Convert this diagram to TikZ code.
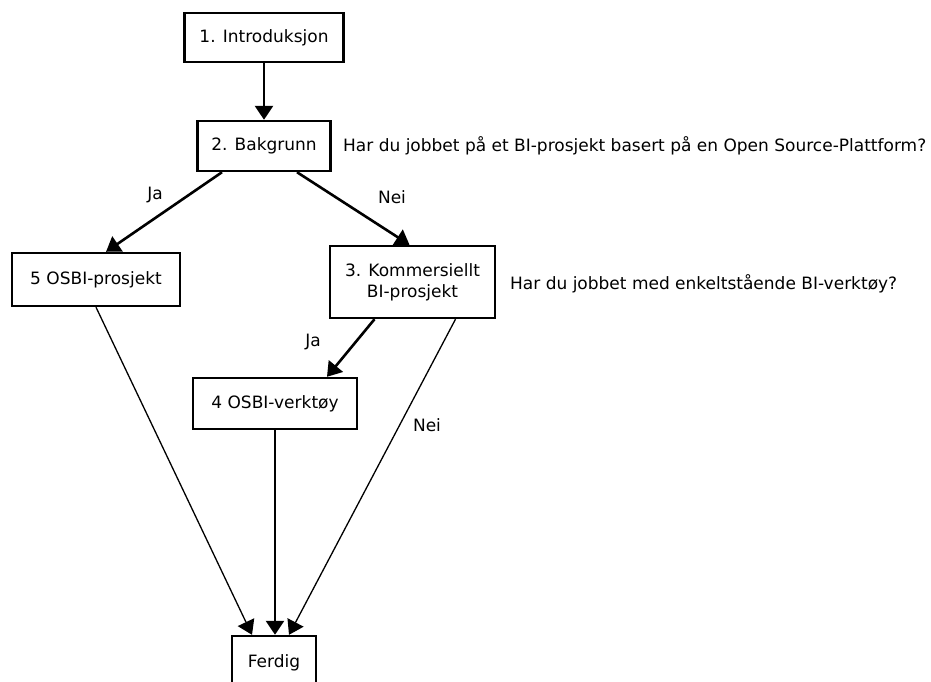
\documentclass[tikz,border=0pt]{standalone}
\usepackage{fontspec}
\setmainfont{DejaVu Sans}
\usetikzlibrary{arrows.meta,calc}
\begin{document}
\begin{tikzpicture}[x=1pt,y=-1pt,
  every node/.style={font=\fontsize{17}{21}\selectfont},
  stepbox/.style={draw,line width=2.4pt,inner sep=0pt,align=center},
  flow/.style={line width=2.6pt,-{Triangle[length=14pt,width=18pt]}},
  thinflow/.style={line width=1.3pt,-{Triangle[length=14pt,width=18pt]}},
  lbl/.style={inner sep=0pt},
  question/.style={anchor=west,inner sep=0pt}]
\useasboundingbox (0,0) rectangle (931,682);
\fill[white] (0,0) rectangle (931,682);

% process steps
\node[stepbox,minimum width=159pt,minimum height=49pt] (intro) at (264,37.5) {1. Introduksjon};
\node[stepbox,minimum width=133pt,minimum height=50pt] (bak) at (264,146) {2. Bakgrunn};
\node[stepbox,minimum width=168pt,minimum height=53pt] (osbip) at (96,279.5) {5 OSBI-prosjekt};
\node[stepbox,minimum width=165pt,minimum height=72pt] (komm) at (412.5,282) {3. Kommersiellt\\BI-prosjekt};
\node[stepbox,minimum width=164pt,minimum height=51pt] (osbiv) at (275,403.5) {4 OSBI-verktøy};
\node[stepbox,minimum width=84pt,minimum height=54pt] (ferdig) at (274,663) {Ferdig};

% decision questions
\node[question] (q1) at (343,146) {Har du jobbet på et BI-prosjekt basert på en Open Source-Plattform?};
\node[question] (q2) at (510,284) {Har du jobbet med enkeltstående BI-verktøy?};

% connectors
\draw[flow] (intro.south) -- (bak.north);
\draw[flow] ($(bak.south)+(-42,0)$) -- ($(osbip.north)+(10,0)$);
\draw[flow] ($(bak.south)+(33,0)$) -- ($(komm.north)+(-3,0)$);
\draw[flow] ($(komm.south)+(-38,0)$) -- ($(osbiv.north)+(52,0)$);
\draw[thinflow] ($(komm.south)+(43,0)$) -- ($(ferdig.north)+(15,0)$);
\draw[thinflow] (osbip.south) -- ($(ferdig.north)+(-22,0)$);
\draw[flow] (osbiv.south) -- (osbiv.south |- ferdig.north);

% answer labels
\node[lbl] (ja1) at (155,195) {Ja};
\node[lbl] (nei1) at (392,197) {Nei};
\node[lbl] (ja2) at (313,342) {Ja};
\node[lbl] (nei2) at (427,425) {Nei};
\end{tikzpicture}
\end{document}
